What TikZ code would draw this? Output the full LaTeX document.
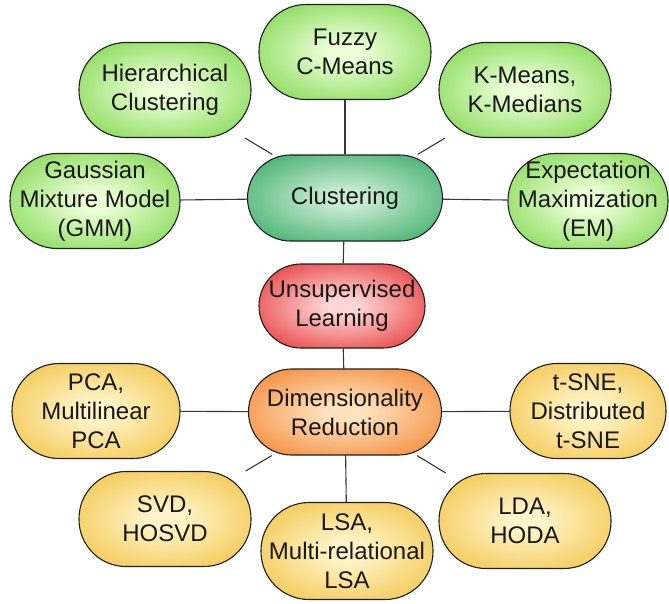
\documentclass[tikz,border=0pt]{standalone}
\usepackage{fontspec}
\setmainfont{Liberation Sans}
\usetikzlibrary{backgrounds}
\definecolor{lgin}{RGB}{236,255,215}
\definecolor{lgout}{RGB}{100,205,45}
\definecolor{dgin}{RGB}{200,236,210}
\definecolor{dgout}{RGB}{25,155,78}
\definecolor{rdin}{RGB}{255,212,212}
\definecolor{rdout}{RGB}{222,15,15}
\definecolor{orin}{RGB}{255,226,190}
\definecolor{orout}{RGB}{240,112,18}
\definecolor{ylin}{RGB}{255,244,200}
\definecolor{ylout}{RGB}{240,184,40}
\definecolor{linec}{RGB}{55,55,55}
\pgfdeclareradialshading{lgsh}{\pgfpoint{0bp}{0bp}}{color(0bp)=(lgin); color(5bp)=(lgin); color(41bp)=(lgout); color(100bp)=(lgout)}
\pgfdeclareradialshading{dgsh}{\pgfpoint{0bp}{0bp}}{color(0bp)=(dgin); color(5bp)=(dgin); color(41bp)=(dgout); color(100bp)=(dgout)}
\pgfdeclareradialshading{rdsh}{\pgfpoint{0bp}{0bp}}{color(0bp)=(rdin); color(5bp)=(rdin); color(41bp)=(rdout); color(100bp)=(rdout)}
\pgfdeclareradialshading{orsh}{\pgfpoint{0bp}{0bp}}{color(0bp)=(orin); color(5bp)=(orin); color(41bp)=(orout); color(100bp)=(orout)}
\pgfdeclareradialshading{ylsh}{\pgfpoint{0bp}{0bp}}{color(0bp)=(ylin); color(5bp)=(ylin); color(41bp)=(ylout); color(100bp)=(ylout)}
\tikzset{
  bub/.style={rounded corners=47pt, draw=black!88, line width=1.1pt, align=center,
    text=black!90, font=\fontsize{24}{29}\selectfont, inner sep=0pt,
    minimum width=172pt, minimum height=95pt},
  lgnode/.style={bub, shading=lgsh},
  dgnode/.style={bub, shading=dgsh, rounded corners=43pt, minimum width=195pt, minimum height=86pt},
  rdnode/.style={bub, shading=rdsh, rounded corners=42pt, minimum width=166pt, minimum height=84pt},
  ornode/.style={bub, shading=orsh, rounded corners=43pt, minimum width=193pt, minimum height=86pt},
  ylnode/.style={bub, shading=ylsh},
  conn/.style={draw=linec, line width=1.1pt}
}
\begin{document}
\begin{tikzpicture}[x=1pt,y=-1pt]
\useasboundingbox (0,0) rectangle (669,603);
% hubs
\node[dgnode] (clu) at (345,198) {Clustering};
\node[rdnode] (uns) at (342,306) {Unsupervised\\Learning};
\node[ornode] (dim) at (345,412) {Dimensionality\\Reduction};
% clustering leaves
\node[lgnode] (fuz) at (345,52) {Fuzzy\\C-Means};
\node[lgnode] (hie) at (165,90) {Hierarchical\\Clustering};
\node[lgnode] (kme) at (525,90) {K-Means,\\K-Medians};
\node[lgnode, minimum width=170pt] (gmm) at (95,201) {Gaussian\\Mixture Model\\(GMM)};
\node[lgnode, minimum width=160pt] (em) at (588,201) {Expectation\\Maximization\\(EM)};
% dimensionality leaves
\node[ylnode, minimum width=168pt] (pca) at (96,411) {PCA,\\Multilinear\\PCA};
\node[ylnode, minimum width=156pt] (tsne) at (588,411) {t-SNE,\\Distributed\\t-SNE};
\node[ylnode] (svd) at (165,519) {SVD,\\HOSVD};
\node[ylnode, minimum height=97pt, rounded corners=48pt] (lsa) at (347,551) {LSA,\\Multi-relational\\LSA};
\node[ylnode] (lda) at (525,521) {LDA,\\HODA};
\begin{scope}[on background layer]
\draw[conn] (clu) -- (fuz);
\draw[conn] (clu) -- (hie);
\draw[conn] (clu) -- (kme);
\draw[conn] (clu) -- (gmm);
\draw[conn] (clu) -- (em);
\draw[conn] (clu) -- (uns);
\draw[conn] (uns) -- (dim);
\draw[conn] (dim) -- (pca);
\draw[conn] (dim) -- (tsne);
\draw[conn] (dim) -- (svd);
\draw[conn] (dim.center) -- (lsa.center);
\draw[conn] (dim) -- (lda);
\end{scope}
\end{tikzpicture}
\end{document}
